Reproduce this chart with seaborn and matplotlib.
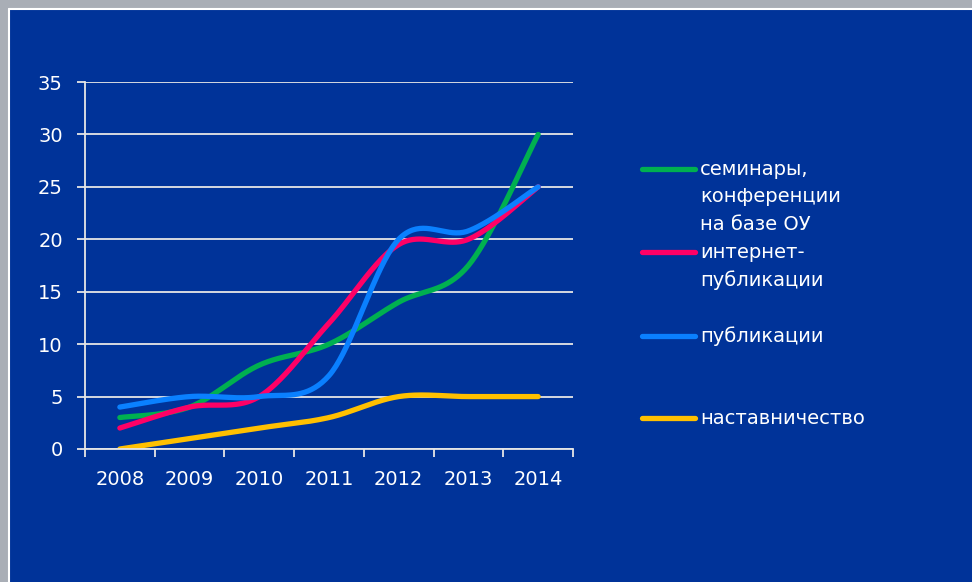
import numpy as np
import pandas as pd
import seaborn as sns
import matplotlib.pyplot as plt
from matplotlib.lines import Line2D
from matplotlib.patches import Rectangle

# data
years = ["2008", "2009", "2010", "2011", "2012", "2013", "2014"]
seminars = [3, 4, 8, 10, 14, 17.5, 30]
internet_pubs = [2, 4, 5, 12, 19.5, 20, 25]
pubs = [4, 5, 5, 7, 20, 20.8, 25]
mentoring = [0, 1, 2, 3, 5, 5, 5]

labels = ["семинары,\nконференции\nна базе ОУ", "интернет-\nпубликации", "публикации", "наставничество"]
colors = ["#00b050", "#ff0066", "#0a80ff", "#ffc000"]
series = [seminars, internet_pubs, pubs, mentoring]

BG = "#003399"
W, H = 972, 582


def smooth(vals, n=40):
    # Excel-like smoothed line (Catmull-Rom through the points)
    p = np.asarray(vals, dtype=float)
    x = np.arange(len(p), dtype=float)
    pp = np.concatenate([[p[0]], p, [p[-1]]])
    xx = np.concatenate([[x[0]], x, [x[-1]]])
    xs, ys = [], []
    t = np.linspace(0, 1, n, endpoint=False)
    for i in range(1, len(pp) - 2):
        for arr, out in ((xx, xs), (pp, ys)):
            p0, p1, p2, p3 = arr[i - 1], arr[i], arr[i + 1], arr[i + 2]
            out.extend(0.5 * ((2 * p1) + (-p0 + p2) * t + (2 * p0 - 5 * p1 + 4 * p2 - p3) * t ** 2
                              + (-p0 + 3 * p1 - 3 * p2 + p3) * t ** 3))
    xs.append(x[-1])
    ys.append(p[-1])
    return np.array(xs), np.array(ys)


rows = []
for name, vals in zip(labels, series):
    sx, sy = smooth(vals)
    rows.append(pd.DataFrame({"x": sx, "y": sy, "series": name, "order": np.arange(len(sx))}))
df = pd.concat(rows, ignore_index=True)

sns.set_style("dark")
plt.rcParams["font.family"] = ["DejaVu Sans"]

fig = plt.figure(figsize=(W / 100, H / 100), dpi=100, facecolor="#a9aeb6")
# blue slide panel with thin white edge
fig.add_artist(Rectangle((10 / W, 0), 1 - 10 / W, 1 - 10 / H, transform=fig.transFigure,
                         facecolor=BG, edgecolor="none", zorder=0))
fig.add_artist(Line2D([9 / W, 9 / W], [0, 1 - 9 / H], transform=fig.transFigure, color="white", lw=1.5))
fig.add_artist(Line2D([9 / W, 1], [1 - 9 / H, 1 - 9 / H], transform=fig.transFigure, color="white", lw=1.5))

ax = fig.add_axes([85 / W, 1 - 449 / H, (573 - 85) / W, (449 - 82) / H])
ax.set_facecolor(BG)

sns.lineplot(data=df, x="x", y="y", hue="series", palette=dict(zip(labels, colors)),
             hue_order=labels, estimator=None, sort=False, legend=False, lw=3.8, ax=ax,
             solid_capstyle="round")

ax.set_xlim(-0.5, 6.5)
ax.set_ylim(0, 35)
ax.set_yticks(np.arange(0, 36, 5))
ax.set_xticks(range(len(years)))
ax.set_xticklabels(years)
ax.set_xticks(np.arange(-0.5, 7, 1), minor=True)
ax.grid(False)
ax.yaxis.grid(True, color="#e6e6e6", lw=1.3)
ax.set_axisbelow(True)
for s in ["top", "right"]:
    ax.spines[s].set_visible(False)
for s in ["left", "bottom"]:
    ax.spines[s].set_visible(True)
    ax.spines[s].set_color("#e6e6e6")
    ax.spines[s].set_linewidth(1.3)
ax.tick_params(axis="y", length=6, width=1.3, color="#e6e6e6", labelcolor="white", labelsize=14, pad=10, left=True)
ax.tick_params(axis="x", which="major", length=0, labelcolor="white", labelsize=14, pad=15)
ax.tick_params(axis="x", which="minor", length=6, width=1.3, color="#e6e6e6", bottom=True)
ax.set_xlabel("")
ax.set_ylabel("")

# legend drawn by hand: handle sits at the first line of each label
leg_y = [169, 252, 336, 418]
line_h = 28
for lab, col, y in zip(labels, colors, leg_y):
    fig.add_artist(Line2D([642 / W, 695 / W], [1 - y / H, 1 - y / H], transform=fig.transFigure,
                          color=col, lw=3.8, solid_capstyle="round"))
    for k, part in enumerate(lab.split("\n")):
        fig.text(700 / W, 1 - (y + k * line_h) / H, part, color="white", fontsize=14,
                 ha="left", va="center")

fig.savefig("out.png", dpi=100, facecolor=fig.get_facecolor())
